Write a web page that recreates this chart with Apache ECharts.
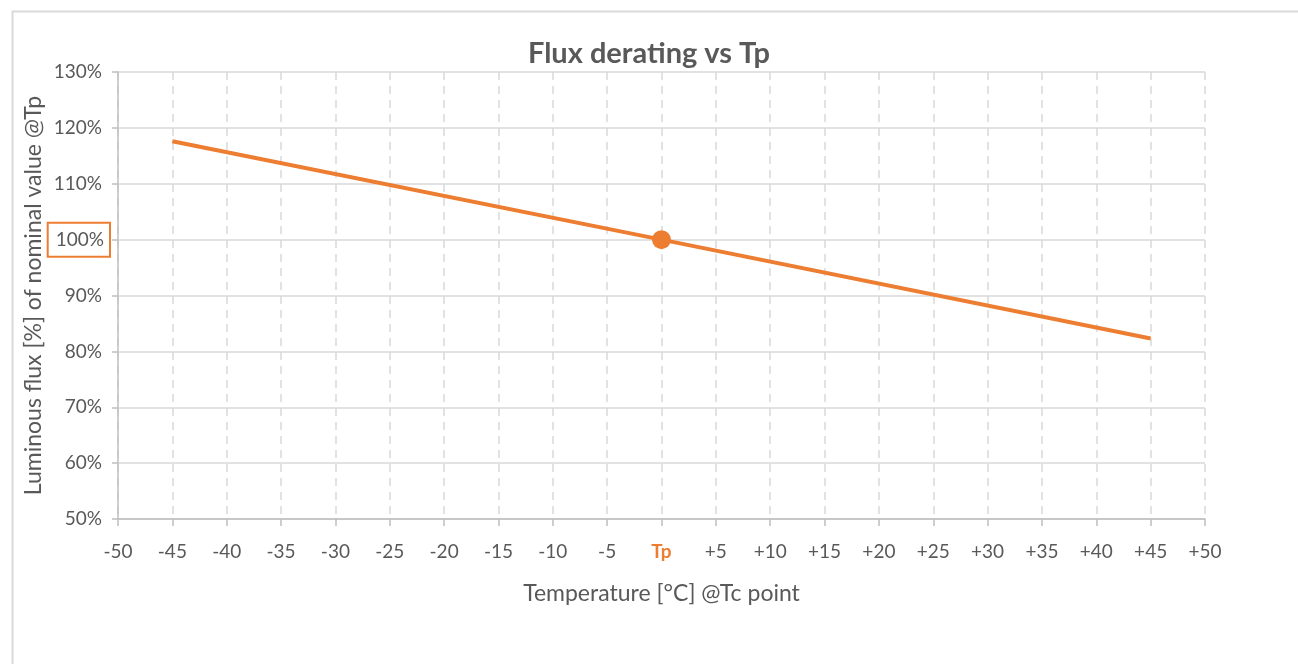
<!DOCTYPE html>
<html>
<head>
<meta charset="utf-8">
<script src="https://cdn.jsdelivr.net/npm/echarts@6/dist/echarts.min.js"></script>
<style>
html,body{margin:0;padding:0;background:#fff;}
#c{width:1298px;height:664px;}
</style>
</head>
<body>
<div id="c"></div>
<script>
// Data
const temperatures = [-45, 0, 45];          // °C relative to Tp
const fluxPercent  = [117.6, 100, 82.3];    // % of nominal value @Tp
const tpPoint = [0, 100];
const xTicks = { min: -50, max: 50, step: 5 };
const yTicks = { min: 50, max: 130, step: 10 };
const titleText = 'Flux derating vs Tp';
const xName = 'Temperature [°C] @Tc point';
const yName = 'Luminous flux [%] of nominal value @Tp';

const FONT = 'Lato, "Open Sans", sans-serif';
const ORANGE = '#ED7D31';
const TXT = '#595959';

const chart = echarts.init(document.getElementById('c'));
chart.setOption({
  animation: false,
  backgroundColor: '#fff',
  graphic: [{
    type: 'rect', left: 10, top: 9, silent: true,
    shape: { width: 1287, height: 700 },
    style: { fill: 'none', stroke: '#d9d9d9', lineWidth: 2 }
  }],
  title: {
    text: titleText, left: 'center', top: 34,
    textStyle: { fontFamily: FONT, fontSize: 29, fontWeight: 'bold', color: TXT }
  },
  grid: { left: 118, right: 93, top: 72, bottom: 145, containLabel: false },
  xAxis: {
    type: 'value', min: xTicks.min, max: xTicks.max, interval: xTicks.step,
    name: xName, nameLocation: 'middle', nameGap: 63, nameMoveOverlap: false,
    nameTextStyle: { fontFamily: FONT, fontSize: 23, color: TXT },
    axisLine: { show: true, onZero: false, lineStyle: { color: '#bfbfbf', width: 1.5 } },
    axisTick: { show: true, length: 7, lineStyle: { color: '#bfbfbf', width: 1.5 } },
    axisLabel: {
      margin: 23, fontFamily: FONT, fontSize: 19, color: TXT,
      formatter: v => v === 0 ? '{tp|Tp}' : (v > 0 ? '+' + v : String(v)),
      rich: { tp: { fontFamily: FONT, fontSize: 19, fontWeight: 'bold', color: ORANGE } }
    },
    splitLine: { show: true, lineStyle: { color: '#d9d9d9', type: [8, 6], width: 1.5 } }
  },
  yAxis: {
    type: 'value', min: yTicks.min, max: yTicks.max, interval: yTicks.step,
    name: yName, nameLocation: 'middle', nameGap: 73, nameRotate: 90, nameMoveOverlap: false,
    nameTextStyle: { fontFamily: FONT, fontSize: 23, color: TXT },
    axisLine: { show: true, onZero: false, lineStyle: { color: '#bfbfbf', width: 1.5 } },
    axisTick: { show: true, length: 6, lineStyle: { color: '#bfbfbf', width: 1.5 } },
    axisLabel: {
      margin: 8, fontFamily: FONT, fontSize: 19, color: TXT,
      formatter: v => v === 100 ? '{box|' + v + '%}' : '{v|' + v + '%}{sp|}',
      rich: {
        v: { fontFamily: FONT, fontSize: 19, color: TXT },
        sp: { width: 8 },
        box: {
          fontFamily: FONT, fontSize: 19, color: TXT,
          borderColor: ORANGE, borderWidth: 2, padding: [8, 6, 7, 8]
        }
      }
    },
    splitLine: { show: true, lineStyle: { color: '#d9d9d9', width: 1.5 } }
  },
  series: [{
    type: 'line',
    data: temperatures.map((t, i) => [t, fluxPercent[i]]),
    symbol: 'none',
    lineStyle: { color: ORANGE, width: 4 },
    z: 3
  }, {
    type: 'scatter',
    data: [tpPoint],
    symbol: 'circle', symbolSize: 19,
    itemStyle: { color: ORANGE, opacity: 1 },
    z: 4
  }]
});
</script>
</body>
</html>
